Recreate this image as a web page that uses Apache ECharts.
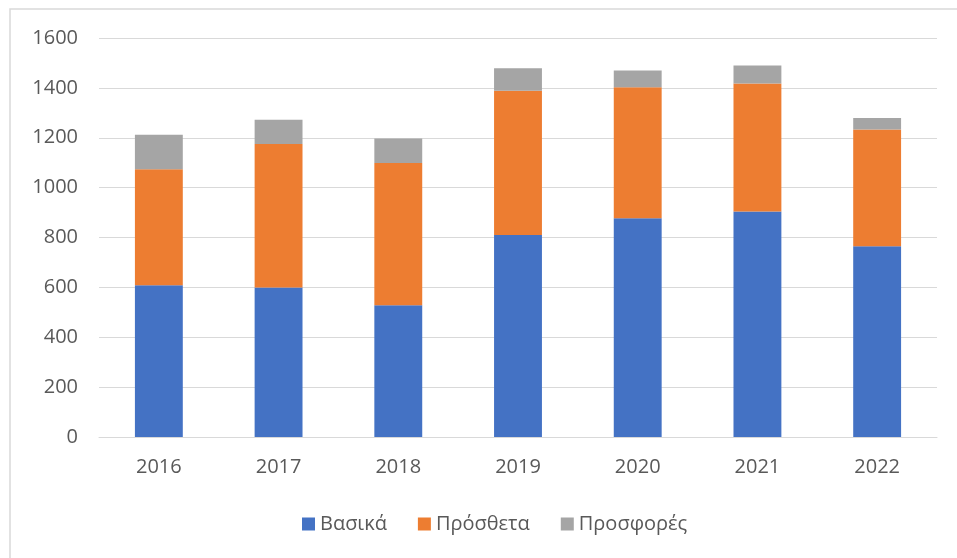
<!DOCTYPE html>
<html>
<head>
<meta charset="utf-8">
<script src="https://cdn.jsdelivr.net/npm/echarts@6/dist/echarts.min.js"></script>
<style>
  html, body { margin: 0; padding: 0; background: #fff; }
  #chart { width: 957px; height: 558px; }
</style>
</head>
<body>
<div id="chart"></div>
<script>
// data
var years = ['2016', '2017', '2018', '2019', '2020', '2021', '2022'];
var vasika = [609, 600, 528, 810, 877, 904, 765];       // Βασικά
var prosthéta = [465, 575, 571, 578, 526, 514, 468];    // Πρόσθετα
var prosfores = [138, 97, 98, 91, 67, 72, 46];          // Προσφορές

var textColor = '#595959';
var fontFam = '"Open Sans", "Noto Sans", sans-serif';

var chart = echarts.init(document.getElementById('chart'));

function barSeries(name, data, color) {
    return {
        name: name,
        type: 'bar',
        stack: 'total',
        barWidth: '40%',
        data: data,
        itemStyle: { color: color },
        emphasis: { disabled: true }
    };
}

var option = {
    animation: false,
    backgroundColor: '#fff',
    // outer chart border (only top/left visible in the picture)
    graphic: [{
        type: 'rect',
        shape: { x: 10, y: 9, width: 1000, height: 600 },
        style: { fill: 'none', stroke: '#d9d9d9', lineWidth: 1.5 },
        silent: true
    }],
    grid: {
        left: 99,
        right: 20,
        top: 38,
        bottom: 121
    },
    legend: {
        left: 297,
        top: 509,
        itemWidth: 13,
        itemHeight: 13,
        itemGap: 31,
        icon: 'rect',
        textStyle: { color: textColor, fontSize: 20, fontFamily: fontFam },
        data: ['Βασικά', 'Πρόσθετα', 'Προσφορές']
    },
    xAxis: {
        type: 'category',
        data: years,
        axisLine: { lineStyle: { color: '#d9d9d9', width: 1 } },
        axisTick: { show: false },
        axisLabel: { color: textColor, fontSize: 20, fontFamily: fontFam, margin: 20 }
    },
    yAxis: {
        type: 'value',
        min: 0,
        max: 1600,
        interval: 200,
        axisLine: { show: false },
        axisTick: { show: false },
        axisLabel: {
            color: textColor, fontSize: 20, fontFamily: fontFam, margin: 21,
            formatter: function (v) { return String(v); }
        },
        splitLine: { lineStyle: { color: '#d9d9d9', width: 1 } }
    },
    series: [
        barSeries('Βασικά', vasika, '#4472c4'),
        barSeries('Πρόσθετα', prosthéta, '#ed7d31'),
        barSeries('Προσφορές', prosfores, '#a5a5a5')
    ]
};

chart.setOption(option);
</script>
</body>
</html>
